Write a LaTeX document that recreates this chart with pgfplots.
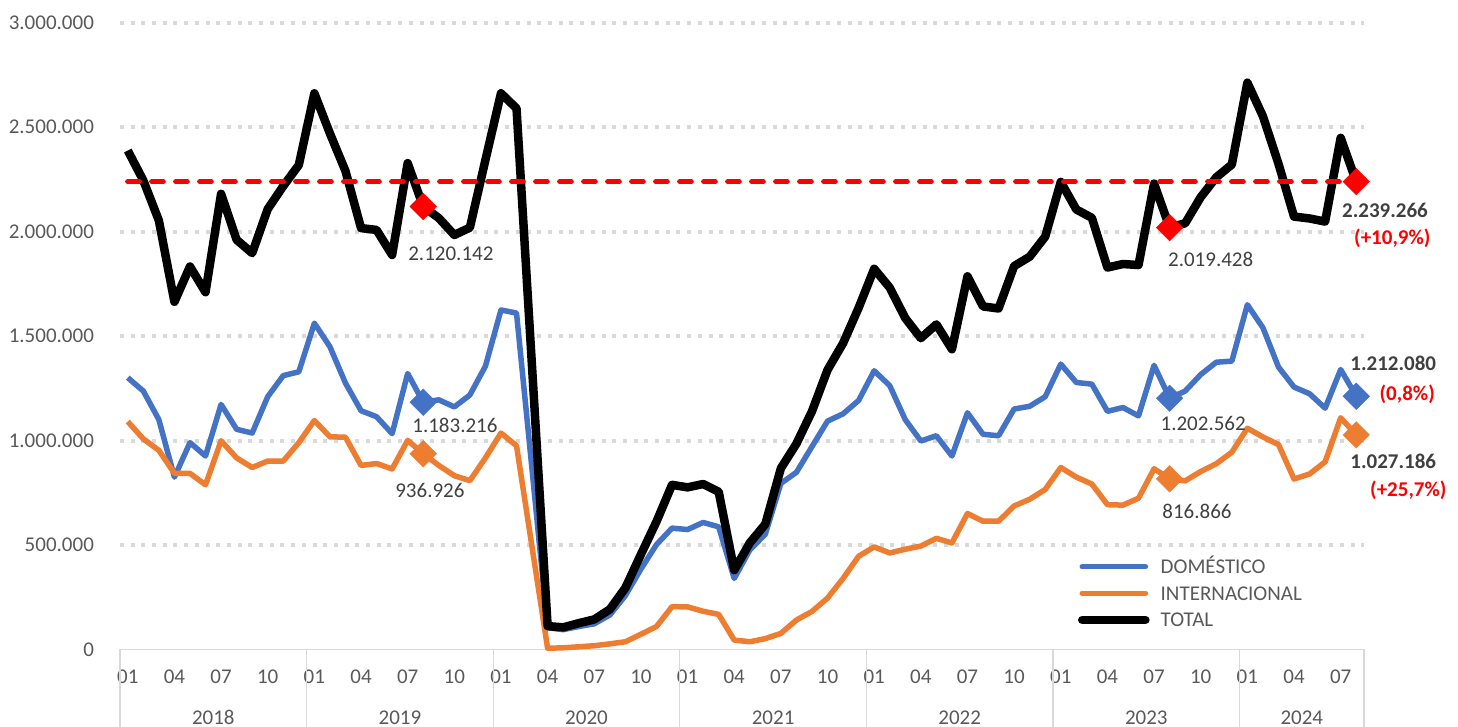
\documentclass[border=0pt]{standalone}
\usepackage{fontspec}
\setmainfont{Carlito}
\usepackage{pgfplots}
\usepackage{pgfplotstable}
\pgfplotsset{compat=1.18}
\definecolor{dom}{HTML}{4472C4}
\definecolor{intl}{HTML}{ED7D31}
\definecolor{gridc}{HTML}{D9D9D9}
\definecolor{txt}{HTML}{595959}
\definecolor{lbl}{HTML}{404040}
\definecolor{pct}{HTML}{FF0000}
\newcommand\fs{\fontsize{10.5pt}{12.6pt}\selectfont}

\pgfplotstableread{
i dom intl total
0 1301000 1091000 2388000
1 1237000 1008000 2245000
2 1100000 953000 2053000
3 825000 843000 1664000
4 990000 843000 1833000
5 926000 788000 1710000
6 1173000 999000 2181000
7 1054000 917000 1961000
8 1036000 871000 1897000
9 1210000 902000 2108000
10 1311000 902000 2218000
11 1329000 990000 2319000
12 1562000 1096000 2662000
13 1449000 1018000 2470000
14 1275000 1016000 2290000
15 1143000 881000 2017000
16 1114000 890000 2008000
17 1033000 864000 1888000
18 1321000 1001000 2328000
19 1183216 936926 2120142
20 1195000 881000 2065000
21 1161000 832000 1984000
22 1218000 808000 2019000
23 1356000 917000 2343000
24 1625000 1036000 2662000
25 1610000 975000 2590000
26 860000 490000 1350000
27 104000 6000 112000
28 95000 8000 106000
29 110000 13000 126000
30 123000 18000 144000
31 165000 27000 192000
32 258000 37000 295000
33 385000 73000 455000
34 502000 110000 612000
35 581000 205000 788000
36 574000 204000 776000
37 608000 183000 792000
38 587000 168000 755000
39 340000 45000 380000
40 476000 37000 510000
41 552000 52000 600000
42 795000 77000 867000
43 848000 141000 985000
44 971000 182000 1140000
45 1093000 246000 1338000
46 1128000 340000 1466000
47 1192000 446000 1635000
48 1334000 491000 1822000
49 1263000 462000 1732000
50 1100000 480000 1586000
51 998000 495000 1490000
52 1023000 532000 1556000
53 926000 510000 1437000
54 1133000 651000 1786000
55 1030000 614000 1642000
56 1023000 614000 1632000
57 1151000 687000 1835000
58 1164000 719000 1880000
59 1210000 766000 1976000
60 1366000 871000 2238000
61 1278000 825000 2106000
62 1270000 792000 2066000
63 1140000 693000 1828000
64 1158000 691000 1845000
65 1118000 724000 1840000
66 1360000 865000 2230000
67 1202562 816866 2019428
68 1237000 807000 2040000
69 1316000 852000 2165000
70 1375000 889000 2260000
71 1380000 944000 2321000
72 1650000 1059000 2713000
73 1540000 1017000 2552000
74 1352000 981000 2325000
75 1256000 816000 2072000
76 1224000 840000 2063000
77 1155000 898000 2048000
78 1340000 1109000 2449000
79 1212080 1027186 2239266
}\data

\begin{document}
\begin{tikzpicture}
\begin{axis}[
  at={(0,0)}, anchor=south west,
  scale only axis, width=622pt, height=313.4pt,
  xmin=-0.5, xmax=79.5, ymin=0, ymax=3000000,
  clip=false,
  axis x line*=bottom, axis y line*=left,
  x axis line style={draw=gridc, line width=0.6pt},
  y axis line style={draw=none},
  major tick length=0pt,
  xtick={0,3,...,78},
  xticklabels={01,04,07,10,01,04,07,10,01,04,07,10,01,04,07,10,01,04,07,10,01,04,07,10,01,04,07},
  xticklabel style={font=\fs, text=txt, anchor=base, inner sep=0pt, yshift=-17.1pt},
  ytick={500000,1000000,1500000,2000000,2500000,3000000},
  extra y ticks={0},
  extra y tick style={grid=none},
  ymajorgrids,
  grid style={gridc, line width=2pt, dash pattern=on 2pt off 3.35pt},
  scaled y ticks=false,
  yticklabel style={/pgf/number format/.cd, fixed, precision=0, 1000 sep={.}, assume math mode=true, /tikz/.cd, anchor=east, inner sep=0pt, xshift=-12.85pt, font=\fs, text=txt},
  legend style={at={(0.7701,0.1468)}, anchor=north west, draw=none, fill=none, inner sep=0pt, outer sep=0pt, font=\fs, text=txt, row sep=4.05pt, column sep=5.5pt, nodes={inner sep=0pt, text height=8pt, text depth=1.25pt, anchor=west}},
  legend cell align=left,
  legend image code/.code={\draw[#1, line cap=round] (2.1pt,0pt) -- (33.7pt,0pt);},
]
\addplot[dom, line width=2.75pt, line join=round] table[x=i, y=dom]{\data};
\addlegendentry{DOMÉSTICO}
\addplot[intl, line width=2.75pt, line join=round] table[x=i, y=intl]{\data};
\addlegendentry{INTERNACIONAL}
\addplot[black, line width=4.25pt, line join=round] table[x=i, y=total]{\data};
\addlegendentry{TOTAL}
\addplot[pct, line width=2.65pt, line cap=round, dash pattern=on 5.7pt off 6.3pt, forget plot] coordinates {(0,2239266) (79,2239266)};
\addplot[dom, only marks, mark=square*, mark size=4.7pt, mark options={rotate=45, fill=dom, draw=dom, line width=0.2pt}, forget plot] coordinates {(19,1183216) (67,1202562) (79,1212080)};
\addplot[intl, only marks, mark=square*, mark size=4.7pt, mark options={rotate=45, fill=intl, draw=intl, line width=0.2pt}, forget plot] coordinates {(19,936926) (67,816866) (79,1027186)};
\addplot[pct, only marks, mark=square*, mark size=4.7pt, mark options={rotate=45, fill=pct, draw=pct, line width=0.2pt}, forget plot] coordinates {(19,2120142) (67,2019428) (79,2239266)};

% year separators and labels
\draw[gridc, line width=0.6pt] (axis cs:-0.5,0) -- ++(0pt,-40pt);
\draw[gridc, line width=0.6pt] (axis cs:11.5,0) -- ++(0pt,-40pt);
\draw[gridc, line width=0.6pt] (axis cs:23.5,0) -- ++(0pt,-40pt);
\draw[gridc, line width=0.6pt] (axis cs:35.5,0) -- ++(0pt,-40pt);
\draw[gridc, line width=0.6pt] (axis cs:47.5,0) -- ++(0pt,-40pt);
\draw[gridc, line width=0.6pt] (axis cs:59.5,0) -- ++(0pt,-40pt);
\draw[gridc, line width=0.6pt] (axis cs:71.5,0) -- ++(0pt,-40pt);
\draw[gridc, line width=0.6pt] (axis cs:79.5,0) -- ++(0pt,-40pt);
\node[font=\fs, text=txt, anchor=base, inner sep=0pt, yshift=-37.6pt] at (axis cs:5.5,0) {2018};
\node[font=\fs, text=txt, anchor=base, inner sep=0pt, yshift=-37.6pt] at (axis cs:17.5,0) {2019};
\node[font=\fs, text=txt, anchor=base, inner sep=0pt, yshift=-37.6pt] at (axis cs:29.5,0) {2020};
\node[font=\fs, text=txt, anchor=base, inner sep=0pt, yshift=-37.6pt] at (axis cs:41.5,0) {2021};
\node[font=\fs, text=txt, anchor=base, inner sep=0pt, yshift=-37.6pt] at (axis cs:53.5,0) {2022};
\node[font=\fs, text=txt, anchor=base, inner sep=0pt, yshift=-37.6pt] at (axis cs:65.5,0) {2023};
\node[font=\fs, text=txt, anchor=base, inner sep=0pt, yshift=-37.6pt] at (axis cs:75.5,0) {2024};

% data labels
\node[font=\fs, text=lbl, anchor=base, inner sep=0pt, yshift=-3.38pt] at (axis cs:20.78,1892900) {2.120.142};
\node[font=\fs, text=lbl, anchor=base, inner sep=0pt, yshift=-3.38pt] at (axis cs:21.04,1069700) {1.183.216};
\node[font=\fs, text=lbl, anchor=base, inner sep=0pt, yshift=-3.38pt] at (axis cs:19.43,760000) {936.926};
\node[font=\fs, text=lbl, anchor=base, inner sep=0pt, yshift=-3.38pt] at (axis cs:69.64,1864150) {2.019.428};
\node[font=\fs, text=lbl, anchor=base, inner sep=0pt, yshift=-3.38pt] at (axis cs:69.16,1082600) {1.202.562};
\node[font=\fs, text=lbl, anchor=base, inner sep=0pt, yshift=-3.38pt] at (axis cs:68.76,659500) {816.866};
\node[font=\fs\bfseries, text=lbl, anchor=base, inner sep=0pt, yshift=-3.38pt] at (axis cs:80.85,2100100) {2.239.266};
\node[font=\fs\bfseries, text=pct, anchor=base, inner sep=0pt, yshift=-3.38pt] at (axis cs:81.32,1972800) {(+10,9\%)};
\node[font=\fs\bfseries, text=lbl, anchor=base, inner sep=0pt, yshift=-3.38pt] at (axis cs:81.38,1366400) {1.212.080};
\node[font=\fs\bfseries, text=pct, anchor=base, inner sep=0pt, yshift=-3.38pt] at (axis cs:82.28,1226200) {(0,8\%)};
\node[font=\fs\bfseries, text=lbl, anchor=base, inner sep=0pt, yshift=-3.38pt] at (axis cs:81.38,898800) {1.027.186};
\node[font=\fs\bfseries, text=pct, anchor=base, inner sep=0pt, yshift=-3.38pt] at (axis cs:82.35,766700) {(+25,7\%)};
\end{axis}
\pgfresetboundingbox
\useasboundingbox (-60pt,-38.75pt) rectangle (669pt,324.75pt);
\end{tikzpicture}
\end{document}
